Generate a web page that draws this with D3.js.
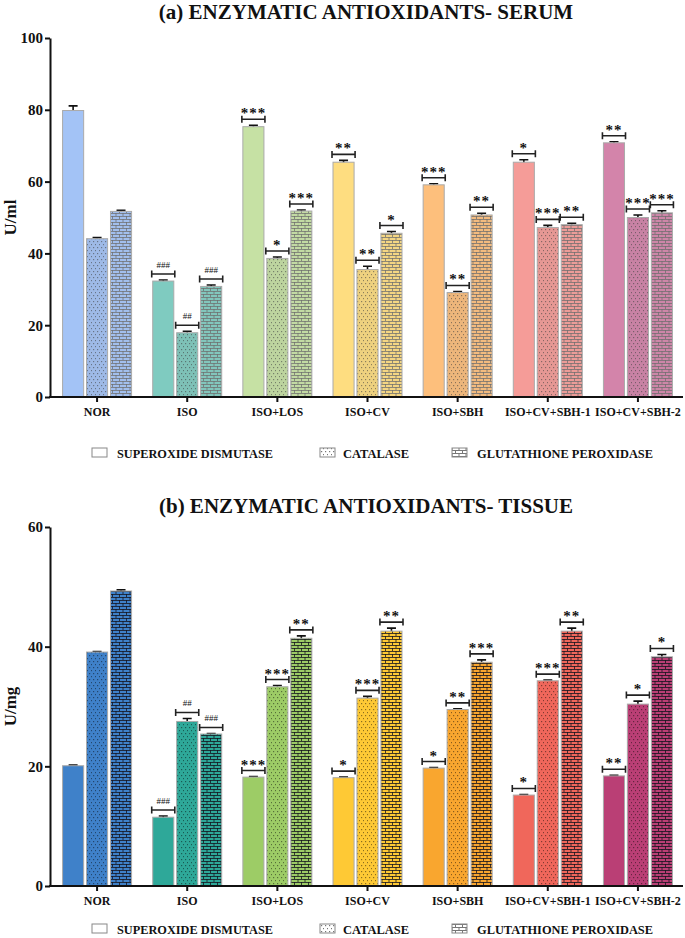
<!DOCTYPE html>
<html>
<head>
<meta charset="utf-8">
<script src="https://cdn.jsdelivr.net/npm/d3@7"></script>
<style>
  body { margin: 0; background: #fff; }
  svg text { font-family: "Liberation Serif", "DejaVu Serif", serif; font-weight: bold; fill: #111; }
</style>
</head>
<body>
<svg id="chart" width="685" height="938" font-family="Liberation Serif"></svg>
<script>
'use strict';

var groups = ['NOR', 'ISO', 'ISO+LOS', 'ISO+CV', 'ISO+SBH', 'ISO+CV+SBH-1', 'ISO+CV+SBH-2'];
var enzymes = ['SUPEROXIDE DISMUTASE', 'CATALASE', 'GLUTATHIONE PEROXIDASE'];

// (a) serum, U/ml
var serumSOD = [79.8, 32.3, 75.3, 65.4, 59.1, 65.4, 70.8];
var serumCAT = [44.1, 17.9, 38.6, 35.5, 29.1, 47.2, 50.0];
var serumGPX = [51.7, 30.8, 51.8, 45.6, 50.7, 48.0, 51.3];
var serumSODerr = [1.3, 0.3, 0.4, 0.5, 0.3, 0.7, 0.3];
var serumCATerr = [0.3, 0.4, 0.4, 0.9, 0.3, 0.6, 0.7];
var serumGPXerr = [0.3, 0.4, 0.3, 0.5, 0.5, 0.4, 0.6];
var serumSODsig = ['', '###', '***', '**', '***', '*', '**'];
var serumCATsig = ['', '##', '*', '**', '**', '***', '***'];
var serumGPXsig = ['', '###', '***', '*', '**', '**', '***'];
var serumTicks = [0, 20, 40, 60, 80, 100];

// (b) tissue, U/mg
var tissueSOD = [20.1, 11.5, 18.2, 18.1, 19.7, 15.2, 18.4];
var tissueCAT = [39.1, 27.5, 33.3, 31.4, 29.5, 34.3, 30.4];
var tissueGPX = [49.3, 25.4, 41.4, 42.6, 37.4, 42.6, 38.3];
var tissueSODerr = [0.1, 0.2, 0.1, 0.1, 0.1, 0.1, 0.1];
var tissueCATerr = [0.1, 0.5, 0.2, 0.3, 0.1, 0.1, 0.5];
var tissueGPXerr = [0.2, 0.1, 0.4, 0.5, 0.4, 0.5, 0.4];
var tissueSODsig = ['', '###', '***', '*', '*', '*', '**'];
var tissueCATsig = ['', '##', '***', '***', '**', '***', '*'];
var tissueGPXsig = ['', '###', '**', '**', '***', '**', '*'];
var tissueTicks = [0, 20, 40, 60];

var serumColors = ['#a3c3f6', '#7fcbc0', '#c6e1a4', '#fedd80', '#fdbf7c', '#f59c98', '#d384aa'];
var tissueColors = ['#3f81c9', '#2ea899', '#9dcc66', '#fec935', '#f9a62f', '#f0675b', '#ba3f75'];

var serif = '"Liberation Serif", "DejaVu Serif", serif';
var svg = d3.select('#chart');
var defs = svg.append('defs');

function makeDots(id, bg, dot) {
  var p = defs.append('pattern').attr('id', id).attr('patternUnits', 'userSpaceOnUse')
    .attr('width', 4).attr('height', 6);
  p.append('rect').attr('width', 4).attr('height', 6).attr('fill', bg);
  p.append('rect').attr('x', 1).attr('y', 1).attr('width', 1.2).attr('height', 1.2).attr('fill', dot);
  p.append('rect').attr('x', 3).attr('y', 4).attr('width', 1.2).attr('height', 1.2).attr('fill', dot);
}

function makeBricks(id, bg, mortar) {
  var p = defs.append('pattern').attr('id', id).attr('patternUnits', 'userSpaceOnUse')
    .attr('width', 7).attr('height', 6);
  p.append('rect').attr('width', 7).attr('height', 6).attr('fill', bg);
  p.append('rect').attr('x', 0).attr('y', 0).attr('width', 7).attr('height', 1).attr('fill', mortar);
  p.append('rect').attr('x', 0).attr('y', 3).attr('width', 7).attr('height', 1).attr('fill', mortar);
  p.append('rect').attr('x', 0).attr('y', 0).attr('width', 1).attr('height', 3).attr('fill', mortar);
  p.append('rect').attr('x', 3.5).attr('y', 3).attr('width', 1).attr('height', 3).attr('fill', mortar);
}

serumColors.forEach(function(c, i) {
  makeDots('sDot' + i, d3.interpolateRgb(c, '#777')(0.12), 'rgba(60,60,60,0.55)');
  makeBricks('sBrick' + i, d3.interpolateRgb(c, '#999')(0.1), 'rgba(110,110,110,0.75)');
});
tissueColors.forEach(function(c, i) {
  makeDots('tDot' + i, c, 'rgba(0,0,0,0.45)');
  makeBricks('tBrick' + i, c, 'rgba(20,20,30,0.8)');
});
makeDots('lDot', '#fff', '#777');
makeBricks('lBrick', '#fff', '#777');

function drawPanel(opt) {
  var g = svg.append('g');
  var x0 = d3.scaleBand().domain(groups).range([52, 683]);
  var x1 = d3.scaleBand().domain(enzymes).range([0, 69]).paddingInner(0.12);
  var y = d3.scaleLinear().domain(opt.domain).range(opt.yRange);

  g.append('text').attr('x', 366).attr('y', opt.titleY)
    .attr('text-anchor', 'middle').style('font-size', '21px').text(opt.title);

  var series = [
    { key: enzymes[0], vals: opt.sod, err: opt.sodErr, sig: opt.sodSig, fill: function(i) { return opt.colors[i]; } },
    { key: enzymes[1], vals: opt.cat, err: opt.catErr, sig: opt.catSig, fill: function(i) { return 'url(#' + opt.pre + 'Dot' + i + ')'; } },
    { key: enzymes[2], vals: opt.gpx, err: opt.gpxErr, sig: opt.gpxSig, fill: function(i) { return 'url(#' + opt.pre + 'Brick' + i + ')'; } }
  ];

  series.forEach(function(s) {
    var bw = x1.bandwidth();
    var sg = g.append('g');
    var data = groups.map(function(grp, i) {
      return { grp: grp, i: i, v: s.vals[i], e: s.err[i], sig: s.sig[i],
        x: x0(grp) + x0.bandwidth() / 2 - 34.5 + x1(s.key) };
    });

    // error bars first, bar covers the lower half
    sg.selectAll('.err').data(data).enter().append('path')
      .attr('d', function(d) {
        var cx = d.x + bw / 2, t = y(d.v + d.e), b = y(d.v - d.e);
        return 'M' + cx + ',' + b + 'V' + t + 'M' + (cx - 4.5) + ',' + t + 'H' + (cx + 4.5);
      })
      .attr('stroke', '#111').attr('stroke-width', 1.6).attr('fill', 'none');

    sg.selectAll('.bar').data(data).enter().append('rect')
      .attr('x', function(d) { return d.x; })
      .attr('y', function(d) { return y(d.v); })
      .attr('width', bw)
      .attr('height', function(d) { return y(0) - y(d.v); })
      .attr('fill', function(d) { return s.fill(d.i); })
      .attr('stroke', '#aaa').attr('stroke-width', 1);

    var sigData = data.filter(function(d) { return d.sig; });
    sg.selectAll('.br').data(sigData).enter().append('path')
      .attr('d', function(d) {
        var by = y(d.v + d.e) - 6, l = d.x - 1, r = d.x + bw + 1;
        return 'M' + l + ',' + (by - 3.5) + 'V' + (by + 3.5) + 'M' + l + ',' + by + 'H' + r +
          'M' + r + ',' + (by - 3.5) + 'V' + (by + 3.5);
      })
      .attr('stroke', '#222').attr('stroke-width', 1.6).attr('fill', 'none');

    sg.selectAll('.sig').data(sigData).enter().append('text')
      .attr('x', function(d) { return d.x + bw / 2; })
      .attr('y', function(d) {
        var by = y(d.v + d.e) - 6;
        return d.sig[0] === '#' ? by - 6 : by - 1;
      })
      .attr('text-anchor', 'middle')
      .style('font-size', function(d) { return d.sig[0] === '#' ? '9px' : '15px'; })
      .style('font-weight', function(d) { return d.sig[0] === '#' ? 'normal' : 'bold'; })
      .style('letter-spacing', function(d) { return d.sig[0] === '#' ? '0px' : '1px'; })
      .text(function(d) { return d.sig; });
  });

  var yAxis = g.append('g').attr('transform', 'translate(50,0)')
    .call(d3.axisLeft(y).tickValues(opt.ticks).tickSize(5).tickSizeOuter(0).tickFormat(d3.format('d')));
  yAxis.select('.domain').attr('stroke', '#111').attr('stroke-width', 2);
  yAxis.selectAll('.tick line').attr('stroke', '#111').attr('stroke-width', 2);
  yAxis.selectAll('.tick text').attr('x', -7).style('font-size', '15px')
    .style('font-family', serif).style('font-weight', 'bold');

  var xAxis = g.append('g').attr('transform', 'translate(0,' + y(0) + ')')
    .call(d3.axisBottom(x0).tickSize(5).tickSizeOuter(0));
  xAxis.select('.domain').attr('stroke', '#111').attr('stroke-width', 2).attr('d', 'M49,0H683');
  xAxis.selectAll('.tick line').attr('stroke', '#111').attr('stroke-width', 2);
  xAxis.selectAll('.tick text').attr('y', 10).style('font-size', '12px')
    .style('font-family', serif).style('font-weight', 'bold');

  g.append('text')
    .attr('transform', 'translate(' + opt.labelX + ',' + ((opt.yRange[0] + opt.yRange[1]) / 2) + ') rotate(-90)')
    .attr('text-anchor', 'middle').style('font-size', '17px').text(opt.label);

  // legend
  var legX = [92, 320, 452];
  var legTextX = [117, 343, 477];
  var legW = [156, 66, 176];
  var legFill = ['#fff', 'url(#lDot)', 'url(#lBrick)'];
  var lg = g.append('g');
  enzymes.forEach(function(e, i) {
    lg.append('rect').attr('x', legX[i]).attr('y', opt.legendY - 5).attr('width', 15).attr('height', 9)
      .attr('fill', legFill[i]).attr('stroke', '#888').attr('stroke-width', 1);
    lg.append('text').attr('x', legTextX[i]).attr('y', opt.legendY + 4.5)
      .attr('textLength', legW[i]).attr('lengthAdjust', 'spacingAndGlyphs')
      .style('font-size', '13px').text(e);
  });
}

drawPanel({
  title: '(a) ENZYMATIC ANTIOXIDANTS- SERUM', titleY: 19,
  domain: [0, 100], yRange: [397, 38], ticks: serumTicks,
  sod: serumSOD, cat: serumCAT, gpx: serumGPX,
  sodErr: serumSODerr, catErr: serumCATerr, gpxErr: serumGPXerr,
  sodSig: serumSODsig, catSig: serumCATsig, gpxSig: serumGPXsig,
  colors: serumColors, pre: 's', label: 'U/ml', labelX: 16, legendY: 453
});

drawPanel({
  title: '(b) ENZYMATIC ANTIOXIDANTS- TISSUE', titleY: 513,
  domain: [0, 60], yRange: [886, 527], ticks: tissueTicks,
  sod: tissueSOD, cat: tissueCAT, gpx: tissueGPX,
  sodErr: tissueSODerr, catErr: tissueCATerr, gpxErr: tissueGPXerr,
  sodSig: tissueSODsig, catSig: tissueCATsig, gpxSig: tissueGPXsig,
  colors: tissueColors, pre: 't', label: 'U/mg', labelX: 16, legendY: 929
});
</script>
</body>
</html>
